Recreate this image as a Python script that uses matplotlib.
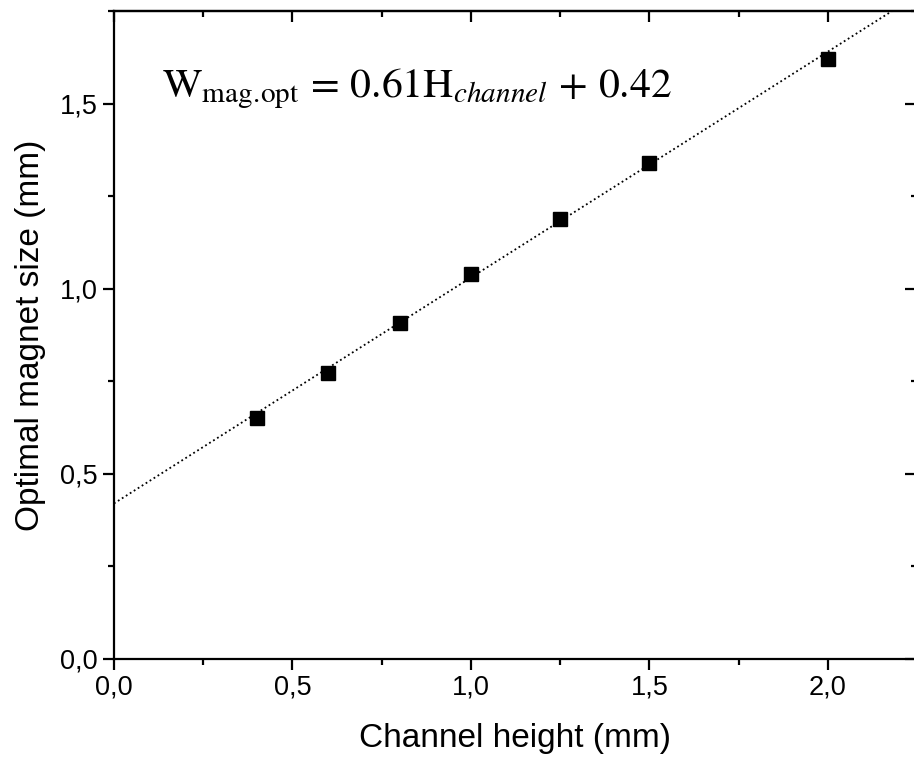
import numpy as np
import matplotlib
matplotlib.use("Agg")
import matplotlib.pyplot as plt
from matplotlib.ticker import MultipleLocator, FuncFormatter

# measured points
channel_height = [0.4, 0.6, 0.8, 1.0, 1.25, 1.5, 2.0]
magnet_size = [0.651, 0.773, 0.908, 1.040, 1.187, 1.339, 1.619]

# linear fit from the equation
slope = 0.61
intercept = 0.42

plt.rcParams['font.family'] = ['Liberation Sans', 'DejaVu Sans']
plt.rcParams['mathtext.fontset'] = 'stix'

fig = plt.figure(figsize=(9.14, 7.62), dpi=100)
ax = fig.add_axes([0.1247, 0.1352, 0.8786, 0.8504])

x_fit = np.linspace(0, 2.25, 50)
ax.plot(x_fit, slope * x_fit + intercept, color='black', linestyle=(0, (1, 1.6)), linewidth=1.3)
ax.plot(channel_height, magnet_size, 's', color='black', markersize=9.5)

ax.set_xlim(0, 2.25)
ax.set_ylim(0, 1.75)

ax.xaxis.set_major_locator(MultipleLocator(0.5))
ax.xaxis.set_minor_locator(MultipleLocator(0.25))
ax.yaxis.set_major_locator(MultipleLocator(0.5))
ax.yaxis.set_minor_locator(MultipleLocator(0.25))

comma = FuncFormatter(lambda v, pos: f"{v:.1f}".replace('.', ','))
ax.xaxis.set_major_formatter(comma)
ax.yaxis.set_major_formatter(comma)

for s in ax.spines.values():
    s.set_linewidth(1.6)
ax.spines['right'].set_visible(False)

ax.tick_params(which='both', direction='out', width=1.6, labelsize=19.5,
               top=False, right=False)
ax.tick_params(which='major', length=8)
ax.tick_params(which='minor', length=4)

# inward ticks on top and right
ax_top = ax.secondary_xaxis('top')
ax_top.xaxis.set_major_locator(MultipleLocator(0.5))
ax_top.xaxis.set_minor_locator(MultipleLocator(0.25))
ax_top.tick_params(which='both', direction='in', width=1.6, labeltop=False)
ax_top.tick_params(which='major', length=8)
ax_top.tick_params(which='minor', length=4)
ax_right = ax.secondary_yaxis('right')
ax_right.yaxis.set_major_locator(MultipleLocator(0.5))
ax_right.yaxis.set_minor_locator(MultipleLocator(0.25))
ax_right.tick_params(which='both', direction='in', width=1.6, labelright=False)
ax_right.tick_params(which='major', length=9)
ax_right.tick_params(which='minor', length=4)
ax_top.spines['top'].set_linewidth(1.6)
ax_right.spines['right'].set_visible(False)

ax.set_xlabel("Channel height (mm)", fontsize=24, labelpad=16)
ax.set_ylabel("Optimal magnet size (mm)", fontsize=24, labelpad=10)

ax.text(0.134, 1.516,
        r"$\mathrm{W}_{\mathrm{mag.\!opt}}\,=\,0.61\mathrm{H}_{channel}\,+\,0.42$",
        fontsize=30, ha='left', va='baseline')

fig.savefig("out.png", dpi=100)
